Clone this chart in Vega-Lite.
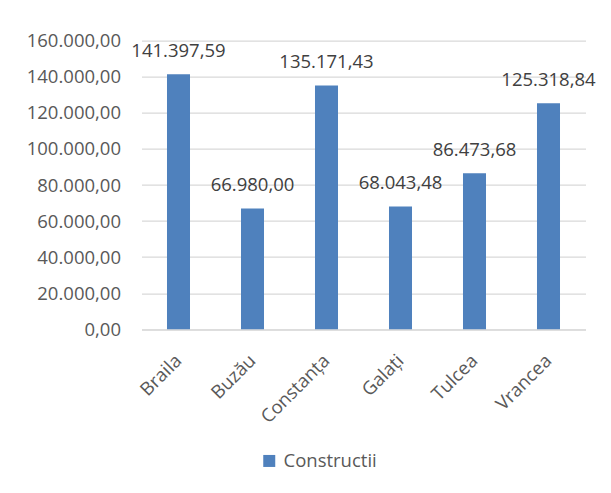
{
  "$schema": "https://vega.github.io/schema/vega-lite/v6.json",
  "width": 444,
  "height": 288.6,
  "autosize": "none",
  "padding": {"left": 141.5, "top": 40.7, "right": 25.5, "bottom": 163.7},
  "background": "white",
  "config": {
    "locale": {"number": {"decimal": ",", "thousands": ".", "grouping": [3], "currency": ["", ""]}},
    "view": {"stroke": null},
    "font": "Open Sans"
  },
  "data": {
    "values": [
      {"judet": "Braila", "valoare": 141397.59, "serie": "Constructii"},
      {"judet": "Buzău", "valoare": 66980.00, "serie": "Constructii"},
      {"judet": "Constanța", "valoare": 135171.43, "serie": "Constructii"},
      {"judet": "Galați", "valoare": 68043.48, "serie": "Constructii"},
      {"judet": "Tulcea", "valoare": 86473.68, "serie": "Constructii"},
      {"judet": "Vrancea", "valoare": 125318.84, "serie": "Constructii"}
    ]
  },
  "encoding": {
    "x": {
      "field": "judet", "type": "nominal", "sort": null,
      "scale": {"paddingInner": 0.689, "paddingOuter": 0.3445},
      "axis": {
        "title": null, "labelAngle": -45, "labelAlign": "right", "labelBaseline": "middle",
        "labelFont": "Open Sans", "labelFontSize": 18.5, "labelColor": "#595959",
        "labelPadding": 28, "ticks": false, "domainColor": "#d9d9d9", "domainWidth": 1.2, "grid": false
      }
    },
    "y": {
      "field": "valoare", "type": "quantitative",
      "scale": {"domain": [0, 160000], "nice": false},
      "axis": {
        "title": null, "values": [0, 20000, 40000, 60000, 80000, 100000, 120000, 140000, 160000],
        "format": ",.2f", "labelFont": "Open Sans", "labelFontSize": 18.5, "labelColor": "#595959",
        "labelPadding": 21, "ticks": false, "domain": false,
        "gridColor": "#d9d9d9", "gridWidth": 1.2
      }
    }
  },
  "layer": [
    {
      "mark": {"type": "bar"},
      "encoding": {
        "color": {
          "field": "serie", "type": "nominal",
          "scale": {"range": ["#4f81bd"]},
          "legend": {
            "title": null, "orient": "none", "legendX": 118.5, "legendY": 411,
            "symbolType": "square", "symbolSize": 144, "symbolStrokeWidth": 0,
            "labelFont": "Open Sans", "labelFontSize": 18.5, "labelColor": "#595959",
            "labelOffset": 5, "padding": 0
          }
        }
      }
    },
    {
      "mark": {"type": "text", "baseline": "alphabetic", "dy": -17.6, "font": "Open Sans", "fontSize": 18.5, "color": "#404040"},
      "encoding": {
        "text": {"field": "valoare", "type": "quantitative", "format": ",.2f"}
      }
    }
  ]
}
